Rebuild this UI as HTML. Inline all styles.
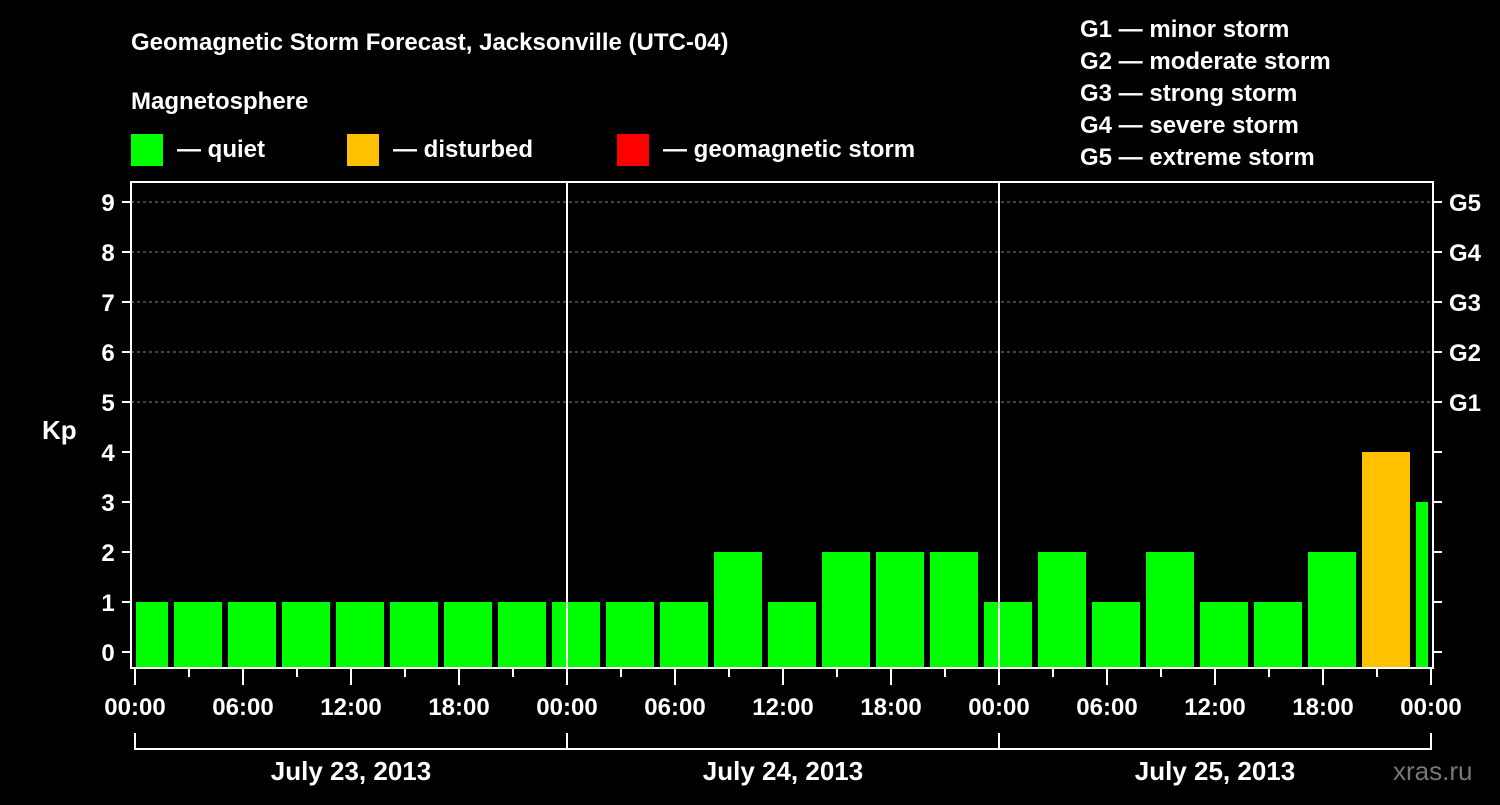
<!DOCTYPE html>
<html><head><meta charset="utf-8"><style>
body{margin:0;background:#000;}
svg text{font-family:"Liberation Sans",sans-serif;font-weight:bold;fill:#fff;}
</style></head><body>
<svg width="1500" height="800" viewBox="0 0 1500 800" xmlns="http://www.w3.org/2000/svg">
<rect width="1500" height="800" fill="#000"/>
<text x="131" y="50" font-size="24">Geomagnetic Storm Forecast, Jacksonville (UTC-04)</text>
<text x="131" y="109" font-size="24">Magnetosphere</text>
<rect x="131" y="134" width="32" height="32" fill="#00ff00"/>
<text x="177" y="157" font-size="24">— quiet</text>
<rect x="347" y="134" width="32" height="32" fill="#ffc000"/>
<text x="393" y="157" font-size="24">— disturbed</text>
<rect x="617" y="134" width="32" height="32" fill="#ff0000"/>
<text x="663" y="157" font-size="24">— geomagnetic storm</text>
<g font-size="24">
<text x="1080" y="37">G1 — minor storm</text>
<text x="1080" y="69">G2 — moderate storm</text>
<text x="1080" y="101">G3 — strong storm</text>
<text x="1080" y="133">G4 — severe storm</text>
<text x="1080" y="165">G5 — extreme storm</text>
</g>
<text x="42" y="439" font-size="26">Kp</text>
<text x="1393" y="780" font-size="26" style="fill:#777;font-weight:normal">xras.ru</text>
<g id="grid"></g>
<g id="bars"></g>
<g id="axes"></g>
</svg>
<script>
const kpValues=[1,1,1,1,1,1,1,1,1,1,1,2,1,2,2,2,1,2,1,2,1,1,2,4,3];
const barStartHours=[-1,2,5,8,11,14,17,20,23,26,29,32,35,38,41,44,47,50,53,56,59,62,65,68,71];
const xTickLabels=["00:00","06:00","12:00","18:00","00:00","06:00","12:00","18:00","00:00","06:00","12:00","18:00","00:00"];
const dayLabels=["July 23, 2013","July 24, 2013","July 25, 2013"];
const gLabels=["G1","G2","G3","G4","G5"];
const NS="http://www.w3.org/2000/svg";
const X=h=>135+h*18, Y=v=>652-v*50;
const L=131,R=1433,T=182,B=668;
function mk(p,tag,a){const e=document.createElementNS(NS,tag);for(const k in a)e.setAttribute(k,a[k]);p.appendChild(e);return e;}
const grid=document.getElementById('grid'),bars=document.getElementById('bars'),axes=document.getElementById('axes');
for(let v=5;v<=9;v++){const l=mk(grid,'line',{x1:L,x2:R,y1:Y(v),y2:Y(v),stroke:'#888','stroke-dasharray':'3,3','stroke-width':1});

}
function color(v){return v>=5?'#ff0000':v>=4?'#ffc000':'#00ff00';}
kpValues.forEach((v,i)=>{const h=barStartHours[i];let x0=Math.max(X(h)+3,136),x1=Math.min(X(h+3)-3,1428);
const r=mk(bars,'rect',{x:x0,y:Y(v),width:x1-x0,height:B-Y(v),fill:color(v)});

});
[24,48].forEach(h=>{const l=mk(axes,'line',{x1:X(h),x2:X(h),y1:T,y2:B,stroke:'#fff','stroke-width':2});

});
const fr=mk(axes,'rect',{x:L,y:T,width:R-L,height:B-T,fill:'none',stroke:'#fff','stroke-width':2});


for(let v=0;v<=9;v++){mk(axes,'line',{x1:122,x2:L,y1:Y(v),y2:Y(v),stroke:'#fff','stroke-width':2});
mk(axes,'line',{x1:R,x2:1442,y1:Y(v),y2:Y(v),stroke:'#fff','stroke-width':2});
const t=mk(axes,'text',{x:108,y:Y(v)+9,'font-size':24,'text-anchor':'middle'});t.textContent=v;


if(v>=5){const g=mk(axes,'text',{x:1449,y:Y(v)+9,'font-size':24});g.textContent=gLabels[v-5];

}}
for(let h=0;h<=72;h+=3){const major=h%6==0;mk(axes,'line',{x1:X(h),x2:X(h),y1:B,y2:major?685:677,stroke:'#fff','stroke-width':2});}
xTickLabels.forEach((s,i)=>{const t=mk(axes,'text',{x:X(i*6),y:715,'font-size':24,'text-anchor':'middle'});t.textContent=s;

});
mk(axes,'line',{x1:X(0),x2:X(72),y1:749,y2:749,stroke:'#fff','stroke-width':2});
[0,24,48,72].forEach(h=>mk(axes,'line',{x1:X(h),x2:X(h),y1:733,y2:750,stroke:'#fff','stroke-width':2}));
dayLabels.forEach((s,i)=>{const t=mk(axes,'text',{x:X(i*24+12),y:780,'font-size':26,'text-anchor':'middle'});t.textContent=s;

});
</script>
</body></html>
